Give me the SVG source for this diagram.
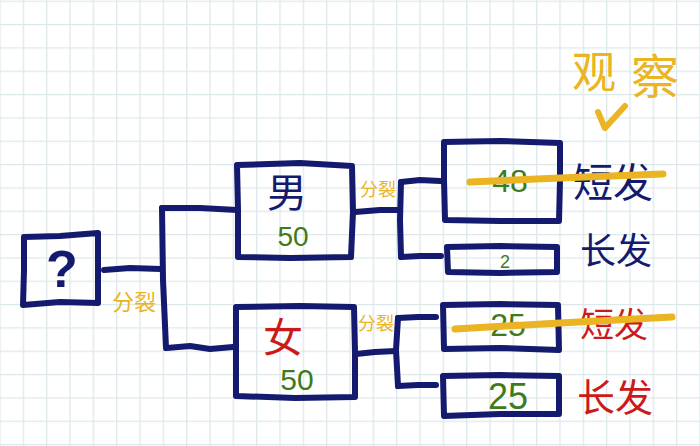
<svg xmlns="http://www.w3.org/2000/svg" width="700" height="446" viewBox="0 0 700 446">
<defs>
<pattern id="grid" x="22.7" y="24" width="23.333" height="23.333" patternUnits="userSpaceOnUse">
<path d="M0,0 H23.333 M0,0 V23.333" fill="none" stroke="#dde8ea" stroke-width="2.6"/>
</pattern>
<style>
.box{fill:none;stroke:#141a6e;stroke-width:6;stroke-linejoin:round;stroke-linecap:round}
.wire{fill:none;stroke:#141a6e;stroke-width:6;stroke-linejoin:round;stroke-linecap:round}
.strike{fill:none;stroke:#eab422;stroke-width:7;stroke-linecap:round}
.cjk{font-family:"Noto Sans CJK SC","Noto Sans",sans-serif;text-anchor:middle}
.num{font-family:"Liberation Sans","DejaVu Sans",sans-serif;text-anchor:middle;fill:#3e7b1c}
.navy{fill:#141a6e}.red{fill:#cc1a1a}.yel{fill:#eab422}
</style>
</defs>
<rect width="700" height="446" fill="#ffffff"/>
<rect width="700" height="446" fill="url(#grid)"/>

<g id="connectors">
<path class="wire" d="M104,270 L130,268 L161,269"/>
<path class="wire" d="M162,208 L163,280 L166,348"/>
<path class="wire" d="M162,208 L200,208 L237,210"/>
<path class="wire" d="M167,348 L190,346 L210,349 L233,347"/>
<path class="wire" d="M355,212 L380,210 L400,210"/>
<path class="wire" d="M401,182 L400,220 L401,256"/>
<path class="wire" d="M401,182 L420,180 L440,181"/>
<path class="wire" d="M401,257 L420,256 L441,256"/>
<path class="wire" d="M356,354 L375,352 L396,351"/>
<path class="wire" d="M398,318 L396,350 L398,386"/>
<path class="wire" d="M398,318 L418,317 L436,317"/>
<path class="wire" d="M398,386 L418,385 L436,385"/>
<path fill="none" stroke="#eab422" stroke-width="6" stroke-linecap="round" stroke-linejoin="round" d="M598,112 L604,126 M625,106 L605,128"/>
</g>

<g id="node-q">
<path class="box" d="M24,237 L60,236 L98,233 L98,270 L98,303 L60,302 L23,305 L24,270 Z"/>
<text x="62" y="287" font-family="Liberation Sans,sans-serif" font-weight="bold" font-size="52" text-anchor="middle" class="navy">?</text>
</g>

<g id="node-male">
<path class="box" d="M237,165 L300,163 L352,166 L353,212 L351,257 L290,258 L238,257 L238,210 Z"/>
<text x="287" y="207" font-size="40" class="cjk navy">男</text>
<text x="293" y="246" font-size="28" class="num">50</text>
</g>

<g id="node-female">
<path class="box" d="M236,307 L300,306 L354,307 L355,352 L355,397 L295,398 L236,396 L236,350 Z"/>
<text x="283" y="352" font-size="40" class="cjk red">女</text>
<text x="297" y="390" font-size="30" class="num">50</text>
</g>

<g id="label-split1">
<text x="134" y="310" font-size="22" class="cjk yel">分裂</text>
</g>
<g id="label-split2">
<text x="378" y="196" font-size="18" class="cjk yel">分裂</text>
</g>
<g id="label-split3">
<text x="376" y="330" font-size="18" class="cjk yel">分裂</text>
</g>

<g id="node-m-short">
<path class="box" d="M444,142 L500,141 L560,143 L560,180 L559,221 L500,221 L445,220 L444,180 Z"/>
<text x="510" y="192" font-size="32" class="num">48</text>
<text x="613" y="197" font-size="40" class="cjk navy">短发</text>
<path class="strike" d="M470,182 L560,178 L663,174"/>
</g>

<g id="node-m-long">
<path class="box" d="M447,247 L500,246 L557,247 L557,272 L500,273 L448,272 Z"/>
<text x="505" y="268" font-size="18" class="num">2</text>
<text x="616" y="264" font-size="36" class="cjk navy">长发</text>
</g>

<g id="node-f-short">
<path class="box" d="M443,305 L500,304 L558,305 L559,350 L500,348 L444,349 Z"/>
<text x="508" y="336" font-size="32" class="num">25</text>
<text x="614" y="337" font-size="34" class="cjk red">短发</text>
<path class="strike" d="M455,329 L560,323 L672,317"/>
</g>

<g id="node-f-long">
<path class="box" d="M443,376 L500,375 L559,376 L559,414 L500,414 L444,416 Z"/>
<text x="508" y="409" font-size="36" class="num">25</text>
<text x="615" y="411" font-size="38" class="cjk red">长发</text>
</g>

<g id="label-observe">
<text x="594" y="88" font-size="44" class="cjk yel">观</text>
<text x="655" y="94" font-size="48" class="cjk yel">察</text>
</g>
</svg>
